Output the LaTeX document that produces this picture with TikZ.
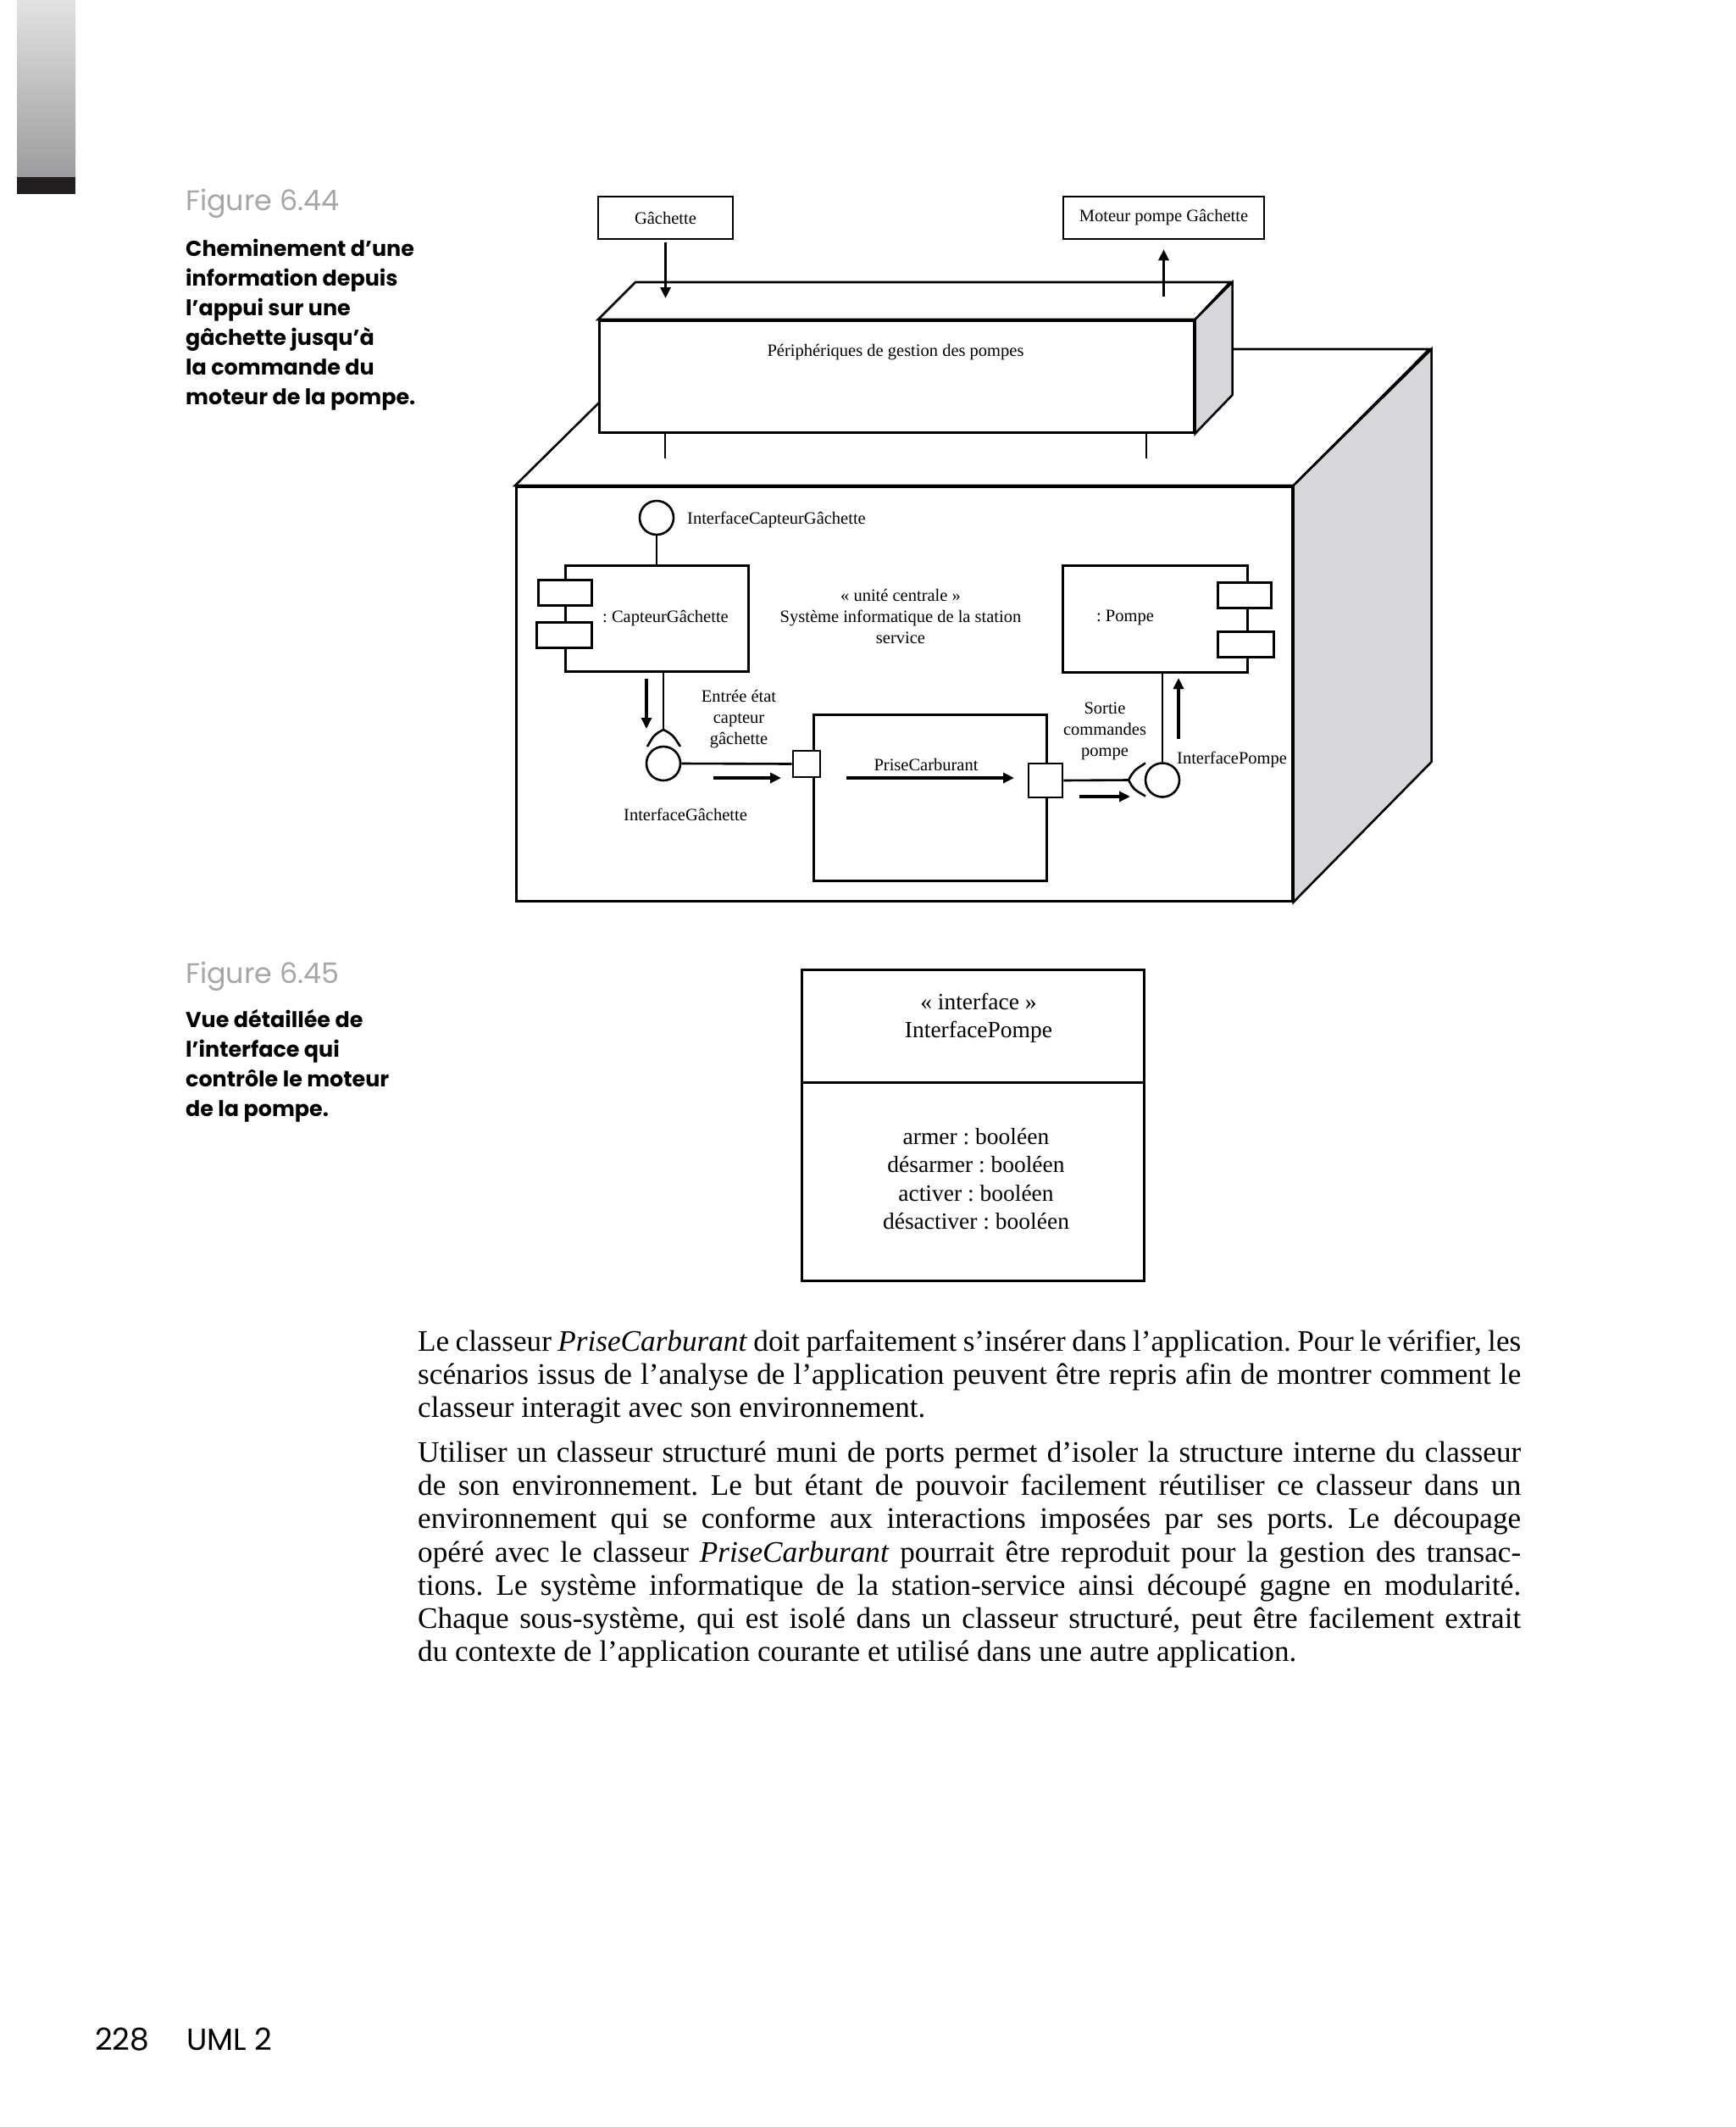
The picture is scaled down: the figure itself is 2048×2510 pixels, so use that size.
\documentclass[tikz,border=0pt]{standalone}
\usepackage{fontspec}
\setmainfont{Liberation Serif}
\newfontfamily\popp{Poppins}
\usetikzlibrary{arrows.meta}
\definecolor{sidegray}{HTML}{D7D6DB}
\definecolor{figgray}{HTML}{A6A6A6}
\definecolor{barblack}{HTML}{231F20}
\definecolor{bartop}{HTML}{E2E2E2}
\definecolor{barbot}{HTML}{9C9C9E}
\newcommand\diagfont{\fontsize{20.5pt}{25pt}\selectfont}
\newcommand\ifacefont{\fontsize{27.5pt}{33.3pt}\selectfont}
\newcommand\bodyfont{\fontsize{35.2pt}{39pt}\selectfont}
\newcommand\figfont{\popp\fontsize{33.4pt}{40pt}\selectfont}
\newcommand\capfont{\popp\bfseries\fontsize{25.4pt}{35pt}\selectfont}
\newcommand\footfont{\popp\fontsize{36pt}{40pt}\selectfont}
\frenchspacing
\tikzset{
  ln/.style={line width=2.6pt},
  box/.style={draw, line width=2.6pt, fill=white, inner sep=0pt},
  dtext/.style={font=\diagfont, inner sep=0pt},
  arr/.style={line width=3.2pt, -{Triangle[length=13pt,width=12pt]}},
  ball/.style={circle, draw, line width=2.6pt, minimum size=40pt, inner sep=0pt, fill=white},
  capt/.style={font=\capfont, inner sep=0pt, anchor=base west},
  figl/.style={font=\figfont, text=figgray, inner sep=0pt, anchor=base west},
  body/.style={font=\bodyfont, inner sep=0pt, anchor=base west},
}
\begin{document}
\begin{tikzpicture}[x=1pt,y=-1pt]
\useasboundingbox (0,0) rectangle (2048,2510);
\fill[white] (0,0) rectangle (2048,2510);

% side bar
\shade[top color=bartop, bottom color=barbot] (20,0) rectangle (89,209);
\fill[barblack] (20,209) rectangle (89,229);

% ---- Figure 6.44 caption
\node[figl] (f44) at (219,248) {Figure 6.44};
\foreach \t [count=\i from 0] in {Cheminement d’une, information depuis, l’appui sur une, gâchette jusqu’à, la commande du, moteur de la pompe.}
  \node[capt] (c44-\i) at (219,302+35*\i) {\t};

% ---- top boxes
\node[box, minimum width=159pt, minimum height=50pt] (gach) at (785.5,257) {\diagfont Gâchette};
\node[box, minimum width=237pt, minimum height=50pt] (moteur) at (1373.5,257) {\diagfont Moteur pompe Gâchette};

% ---- main node (3D)
\node[box, anchor=north west, minimum width=916pt, minimum height=489pt] (main) at (608,573) {};
\draw[ln, fill=white] (main.north west) -- ++(163,-161) -- ++(916,0) -- (main.north east) -- cycle;
\draw[ln, fill=sidegray] (main.north east) -- ++(163,-161) -- ++(0,487) -- (main.south east) -- cycle;

% ---- top 3D box
\node[box, anchor=north west, minimum width=702pt, minimum height=132pt] (peri) at (706,377) {};
\draw[ln, fill=white] (peri.north west) -- ++(44,-44) -- ++(702,0) -- (peri.north east) -- cycle;
\draw[ln, fill=sidegray] (peri.north east) -- ++(44,-44) -- ++(0,133) -- (peri.south east) -- cycle;
\node[dtext] (peritxt) at (1057,416) {Périphériques de gestion des pompes};

% legs under top box
\coordinate (leg1) at (785,541);
\coordinate (leg2) at (1353,541);
\draw[ln] (peri.south -| leg1) -- (leg1);
\draw[ln] (peri.south -| leg2) -- (leg2);

% arrows at the top
\coordinate (g1) at (785.5,286);
\coordinate (g2) at (785.5,352);
\draw[arr] (g1) -- (g2);
\coordinate (m1) at (1373.5,350);
\draw[arr, shorten >=11pt] (m1) -- (moteur.south);

% ---- inside main box
\node[box, anchor=north west, minimum width=216pt, minimum height=125pt] (capt) at (666,666) {};
\node[dtext] (captl) at (785.5,730) {: CapteurGâchette};
\node[box, anchor=north west, minimum width=63pt, minimum height=30pt] (cr1) at (634,683) {};
\node[box, anchor=north west, minimum width=65pt, minimum height=30pt] (cr2) at (632,733) {};

\node[box, anchor=north west, minimum width=218pt, minimum height=126pt] (pompe) at (1253,666) {};
\node[dtext] (pompel) at (1328,729) {: Pompe};
\node[box, anchor=north west, minimum width=63pt, minimum height=30pt] (pr1) at (1436,686) {};
\node[box, anchor=north west, minimum width=66pt, minimum height=30pt] (pr2) at (1436,744) {};

\node[dtext, align=center] (uc) at (1063,727) {« unité centrale »\\Système informatique de la station\\service};

% interface capteur gachette
\node[ball] (ballIC) at (775,611) {};
\node[dtext, anchor=west] (ballICl) at (811,613) {InterfaceCapteurGâchette};
\draw[ln] (ballIC.south) -- (ballIC.south |- capt.north);

% interface gachette with socket
\node[ball] (ballIG) at (783,901) {};
\coordinate (s1peak) at (783,861);
\draw[ln] (capt.south -| s1peak) -- (s1peak);
\draw[ln] ([shift={(-19,20)}]s1peak) .. controls ([shift={(-11,6)}]s1peak) .. (s1peak)
          .. controls ([shift={(11,6)}]s1peak) .. ([shift={(20,20)}]s1peak);
\coordinate (d1a) at (763,801);
\coordinate (d1b) at (763,860);
\draw[arr] (d1a) -- (d1b);
\node[dtext, align=center] (entree) at (872,849) {Entrée état\\capteur\\gâchette};
\node[dtext] (igl) at (809,961) {InterfaceGâchette};

% PriseCarburant
\node[box, anchor=north west, minimum width=275pt, minimum height=196pt] (prise) at (959,842) {};
\node[box, minimum width=32pt, minimum height=31pt] (port1) at (952,901.5) {};
\node[box, minimum width=40pt, minimum height=40pt] (port2) at (1234,921) {};
\draw[ln] (ballIG.east) -- (port1.west);
\node[dtext] (pcl) at (1093,902) {PriseCarburant};
\coordinate (sa1) at (842,918);
\coordinate (sa2) at (922,918);
\draw[arr] (sa1) -- (sa2);
\coordinate (la1) at (999,918);
\coordinate (la2) at (1197,918);
\draw[arr] (la1) -- (la2);

% interface pompe with socket
\node[ball] (ballIP) at (1372,920.5) {};
\coordinate (s2tip) at (1332,920.5);
\draw[ln] (port2.east) -- (s2tip);
\draw[ln] ([shift={(20,-20)}]s2tip) .. controls ([shift={(6,-11)}]s2tip) .. (s2tip)
          .. controls ([shift={(6,11)}]s2tip) .. ([shift={(20,19)}]s2tip);
\draw[ln] (ballIP.north) -- (ballIP.north |- pompe.south);
\coordinate (ua1) at (1391,872);
\coordinate (ua2) at (1391,800);
\draw[arr] (ua1) -- (ua2);
\coordinate (ra1) at (1274,940);
\coordinate (ra2) at (1334,940);
\draw[arr] (ra1) -- (ra2);
\node[dtext, align=center] (sortie) at (1304,863) {Sortie\\commandes\\pompe};
\node[dtext, anchor=west] (ipl) at (1389,896) {InterfacePompe};

% ---- Figure 6.45 caption
\node[figl] (f45) at (219,1160) {Figure 6.45};
\foreach \t [count=\i from 0] in {Vue détaillée de, l’interface qui, contrôle le moteur, de la pompe.}
  \node[capt] (c45-\i) at (219,1212+35.3*\i) {\t};

% ---- interface class box
\node[draw, line width=3pt, anchor=north west, minimum width=404pt, minimum height=367pt] (iface) at (945,1143) {};
\coordinate (divy) at (945,1277);
\draw[line width=3pt] (iface.west |- divy) -- (iface.east |- divy);
\node[font=\ifacefont, align=center, inner sep=0pt] (ifname) at (1155,1201) {« interface »\\InterfacePompe};
\node[font=\ifacefont, align=center, inner sep=0pt] (ifattr) at (1152,1391) {armer : booléen\\désarmer : booléen\\activer : booléen\\désactiver : booléen};

% ---- body text
\node[body] (b1) at (493,1594) {\makebox[1302pt][s]{Le classeur \textit{PriseCarburant} doit parfaitement s’insérer dans l’application. Pour le vérifier, les}};
\node[body] (b2) at (493,1633) {\makebox[1302pt][s]{scénarios issus de l’analyse de l’application peuvent être repris afin de montrer comment le}};
\node[body] (b3) at (493,1672) {classeur interagit avec son environnement.};
\node[body] (b4) at (493,1725) {\makebox[1302pt][s]{Utiliser un classeur structuré muni de ports permet d’isoler la structure interne du classeur}};
\node[body] (b5) at (493,1764) {\makebox[1302pt][s]{de son environnement. Le but étant de pouvoir facilement réutiliser ce classeur dans un}};
\node[body] (b6) at (493,1803) {\makebox[1302pt][s]{environnement qui se conforme aux interactions imposées par ses ports. Le découpage}};
\node[body] (b7) at (493,1843) {\makebox[1302pt][s]{opéré avec le classeur \textit{PriseCarburant} pourrait être reproduit pour la gestion des transac-}};
\node[body] (b8) at (493,1882) {\makebox[1302pt][s]{tions. Le système informatique de la station-service ainsi découpé gagne en modularité.}};
\node[body] (b9) at (493,1921) {\makebox[1302pt][s]{Chaque sous-système, qui est isolé dans un classeur structuré, peut être facilement extrait}};
\node[body] (b10) at (493,1960) {du contexte de l’application courante et utilisé dans une autre application.};

% ---- footer
\node[font=\footfont, inner sep=0pt, anchor=base west] (pnum) at (112,2419) {228};
\node[font=\footfont, inner sep=0pt, anchor=base west] (pbook) at (220,2419) {UML 2};
\end{tikzpicture}
\end{document}
